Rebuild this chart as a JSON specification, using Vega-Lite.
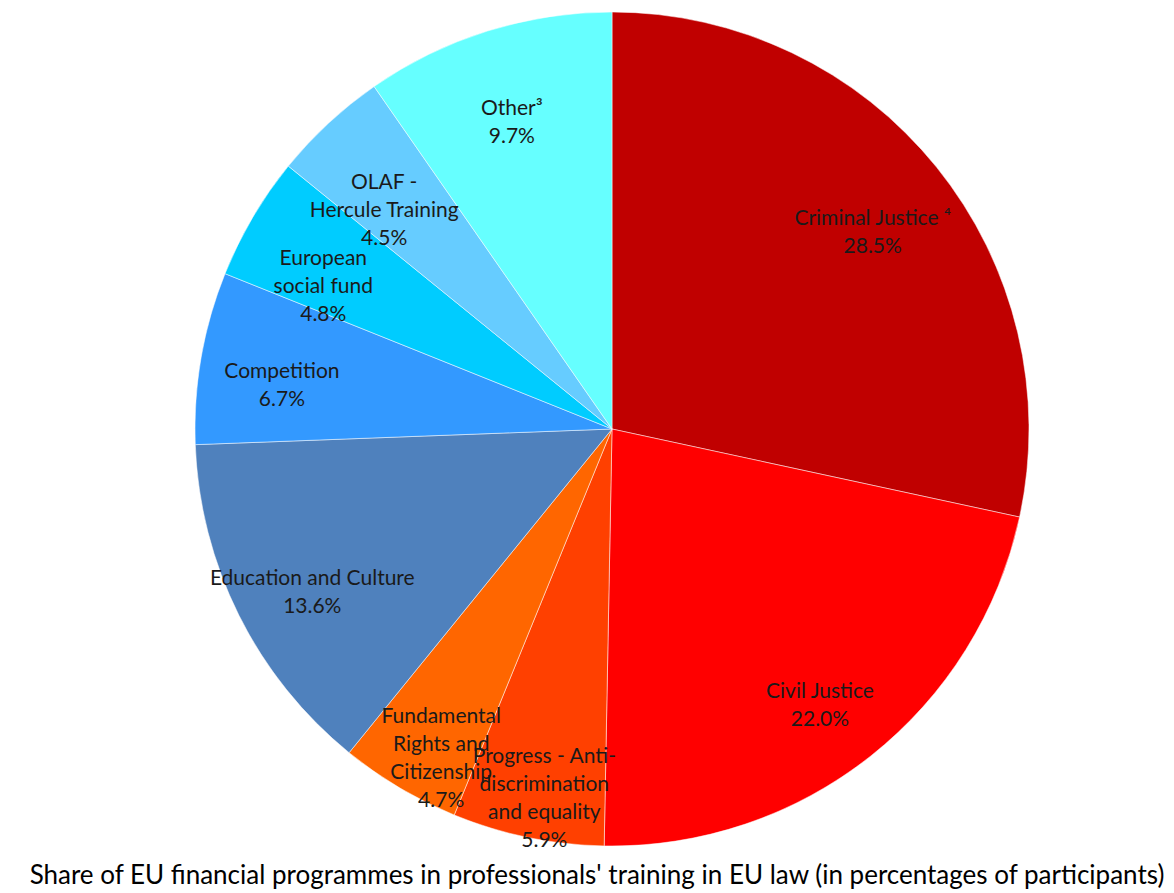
{
  "$schema": "https://vega.github.io/schema/vega-lite/v6.json",
  "width": 834,
  "height": 834,
  "autosize": {"type": "none"},
  "padding": {"left": 195, "top": 12, "right": 145, "bottom": 47},
  "background": "white",
  "title": {
    "text": "Share of EU financial programmes in professionals' training in EU law (in percentages of participants)",
    "orient": "bottom",
    "font": "Lato",
    "fontSize": 26,
    "fontWeight": "normal",
    "color": "black",
    "offset": 12,
    "dx": -15
  },
  "data": {
    "values": [
      {"idx": 1, "name": "Criminal Justice", "value": 28.5, "label": "Criminal Justice ⁴\n28.5%"},
      {"idx": 2, "name": "Civil Justice", "value": 22.0, "label": "Civil Justice\n22.0%"},
      {"idx": 3, "name": "Progress - Anti-discrimination and equality", "value": 5.9, "label": "Progress - Anti-\ndiscrimination\nand equality\n5.9%"},
      {"idx": 4, "name": "Fundamental Rights and Citizenship", "value": 4.7, "label": "Fundamental\nRights and\nCitizenship\n4.7%"},
      {"idx": 5, "name": "Education and Culture", "value": 13.6, "label": "Education and Culture\n13.6%"},
      {"idx": 6, "name": "Competition", "value": 6.7, "label": "Competition\n6.7%"},
      {"idx": 7, "name": "European social fund", "value": 4.8, "label": "European\nsocial fund\n4.8%"},
      {"idx": 8, "name": "OLAF - Hercule Training", "value": 4.5, "label": "OLAF -\nHercule Training\n4.5%"},
      {"idx": 9, "name": "Other", "value": 9.7, "label": "Other³\n9.7%"}
    ]
  },
  "encoding": {
    "theta": {"field": "value", "type": "quantitative", "stack": true},
    "order": {"field": "idx", "type": "quantitative", "sort": "ascending"}
  },
  "layer": [
    {
      "mark": {"type": "arc", "outerRadius": 417, "stroke": "white", "strokeWidth": 0.5},
      "encoding": {
        "color": {
          "field": "name",
          "type": "nominal",
          "legend": null,
          "scale": {
            "domain": ["Criminal Justice", "Civil Justice", "Progress - Anti-discrimination and equality", "Fundamental Rights and Citizenship", "Education and Culture", "Competition", "European social fund", "OLAF - Hercule Training", "Other"],
            "range": ["#C00000", "#FF0000", "#FF4000", "#FF6600", "#4F81BD", "#3399FF", "#00CCFF", "#66CCFF", "#66FFFF"]
          }
        }
      }
    },
    {
      "mark": {"type": "text", "radius": 335, "font": "Lato", "fontSize": 21, "lineHeight": 28, "lineBreak": "\n", "fill": "#1a1a1a", "align": "center", "baseline": "middle"},
      "encoding": {"text": {"field": "label", "type": "nominal"}}
    }
  ]
}
